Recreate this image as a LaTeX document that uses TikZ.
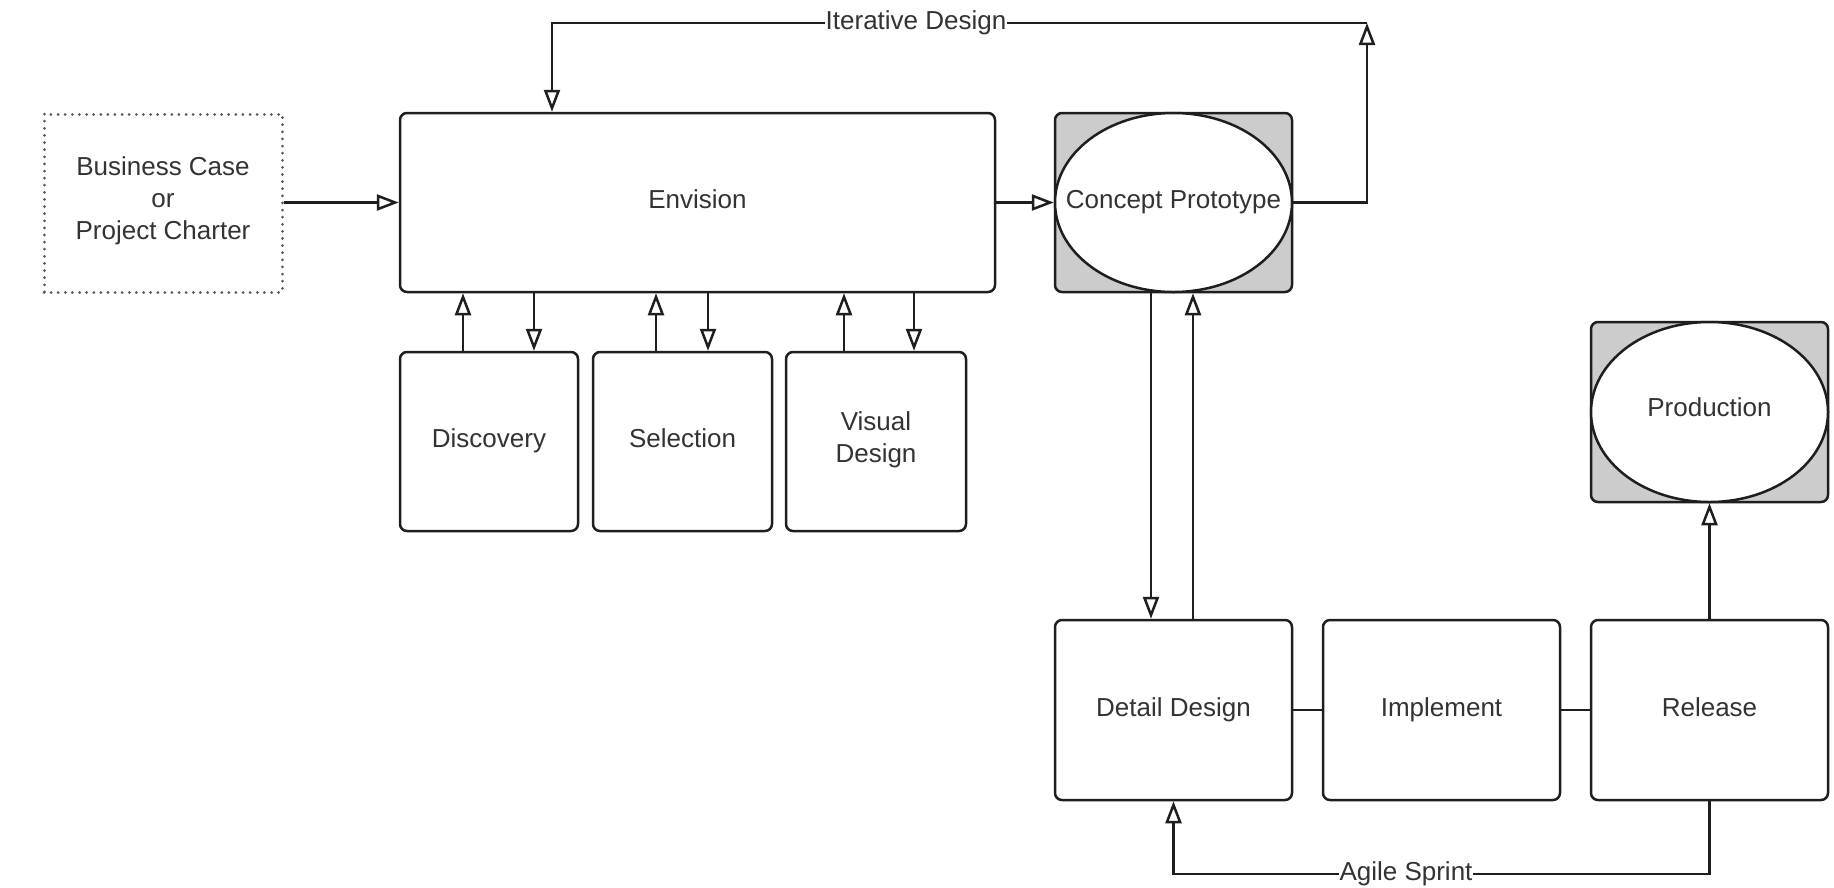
\documentclass[tikz,border=0pt]{standalone}
\usepackage{fontspec}
\setmainfont{Liberation Sans}
\usetikzlibrary{arrows.meta,shapes.geometric}
\definecolor{ink}{HTML}{1E1E1E}
\definecolor{txt}{HTML}{333333}
\definecolor{shade}{HTML}{CCCCCC}
\tikzset{
  base/.style={font=\fontsize{26}{32}\selectfont, text=txt, align=center, inner sep=0pt,
    execute at begin node=\strut, execute at end node=\strut},
  box/.style={base, draw=ink, line width=2.5pt, rounded corners=7pt, fill=white, minimum height=179pt},
  dotbox/.style={base, draw=ink!75, line width=3pt, dash pattern=on 0.01pt off 7.1pt, line cap=round, minimum height=178pt},
  greybox/.style={draw=ink, line width=2.5pt, rounded corners=7pt, fill=shade, minimum height=179pt, inner sep=0pt},
  oval/.style={ellipse, draw=ink, line width=2.5pt, fill=white, minimum height=179pt, inner sep=0pt},
  word/.style={base},
  arr/.style={draw=ink, line width=2.5pt, -{Triangle[open, length=22pt, width=16pt]}},
  link/.style={draw=ink, line width=2.5pt},
  lab/.style={base, fill=white, inner sep=1pt}
}
\begin{document}
\begin{tikzpicture}[x=1pt,y=-1pt]
\useasboundingbox (0,0) rectangle (1834,887);

% front-end planning
\node[dotbox, minimum width=238pt] (charter) at (163,203) {Business Case\\or\\Project Charter};
\node[box, minimum width=595pt] (envision) at (697.5,202.5) {Envision};
\node[box, minimum width=178pt] (disc) at (489,441.5) {Discovery};
\node[box, minimum width=179pt] (sel) at (682.5,441.5) {Selection};
\node[box, minimum width=180pt] (vis) at (876,441.5) {Visual\\Design};

% prototype and production milestones
\node[greybox, minimum width=237pt] (conceptbox) at (1173.5,202.5) {};
\node[oval, minimum width=237pt] (conceptoval) at (1173.5,202.5) {};
\node[word] (concept) at (1173.5,202.5) {Concept Prototype};
\node[greybox, minimum width=237pt, minimum height=180pt] (prodbox) at (1709.5,412) {};
\node[oval, minimum width=237pt, minimum height=180pt] (prodoval) at (1709.5,412) {};
\node[word] (prod) at (1709.5,410) {Production};

% delivery loop
\node[box, minimum width=237pt, minimum height=180pt] (detail) at (1173.5,710) {Detail Design};
\node[box, minimum width=237pt, minimum height=180pt] (impl) at (1441.5,710) {Implement};
\node[box, minimum width=237pt, minimum height=180pt] (rel) at (1709.5,710) {Release};

% main flow
\draw[arr] (charter.east |- envision.east) -- (envision.west);
\draw[arr] (envision.east) -- (conceptbox.west);

% envision <-> activities
\path ([xshift=-26pt]disc.north) coordinate (du)
      ([xshift=45pt]disc.north) coordinate (dd)
      ([xshift=-26.5pt]sel.north) coordinate (su)
      ([xshift=25.5pt]sel.north) coordinate (sd)
      ([xshift=-32pt]vis.north) coordinate (vu)
      ([xshift=38pt]vis.north) coordinate (vd);
\draw[arr] (du) -- (du |- envision.south);
\draw[arr] (dd |- envision.south) -- (dd);
\draw[arr] (su) -- (su |- envision.south);
\draw[arr] (sd |- envision.south) -- (sd);
\draw[arr] (vu) -- (vu |- envision.south);
\draw[arr] (vd |- envision.south) -- (vd);

% iterative design loop
\coordinate (itR) at (1367,23);
\coordinate (itL) at (552,23);
\draw[arr] (conceptbox.east) -| (itR);
\draw[arr] (itR) -- (itL) -- (itL |- envision.north);
\node[lab] (itlab) at (916,23) {Iterative Design};

% prototype <-> detail design
\path ([xshift=-22.5pt]detail.north) coordinate (cd)
      ([xshift=19.5pt]detail.north) coordinate (cu);
\draw[arr] (cd |- conceptbox.south) -- (cd);
\draw[arr] (cu) -- (cu |- conceptbox.south);

% delivery chain
\draw[link] (detail.east) -- (impl.west);
\draw[link] (impl.east) -- (rel.west);
\draw[arr] (rel.north) -- (prodbox.south);

% agile sprint loop
\coordinate (sprint) at (1173.5,874);
\draw[arr] (rel.south) |- (sprint) -- (detail.south);
\node[lab] (sprintlab) at (1406,874) {Agile Sprint};
\end{tikzpicture}
\end{document}
